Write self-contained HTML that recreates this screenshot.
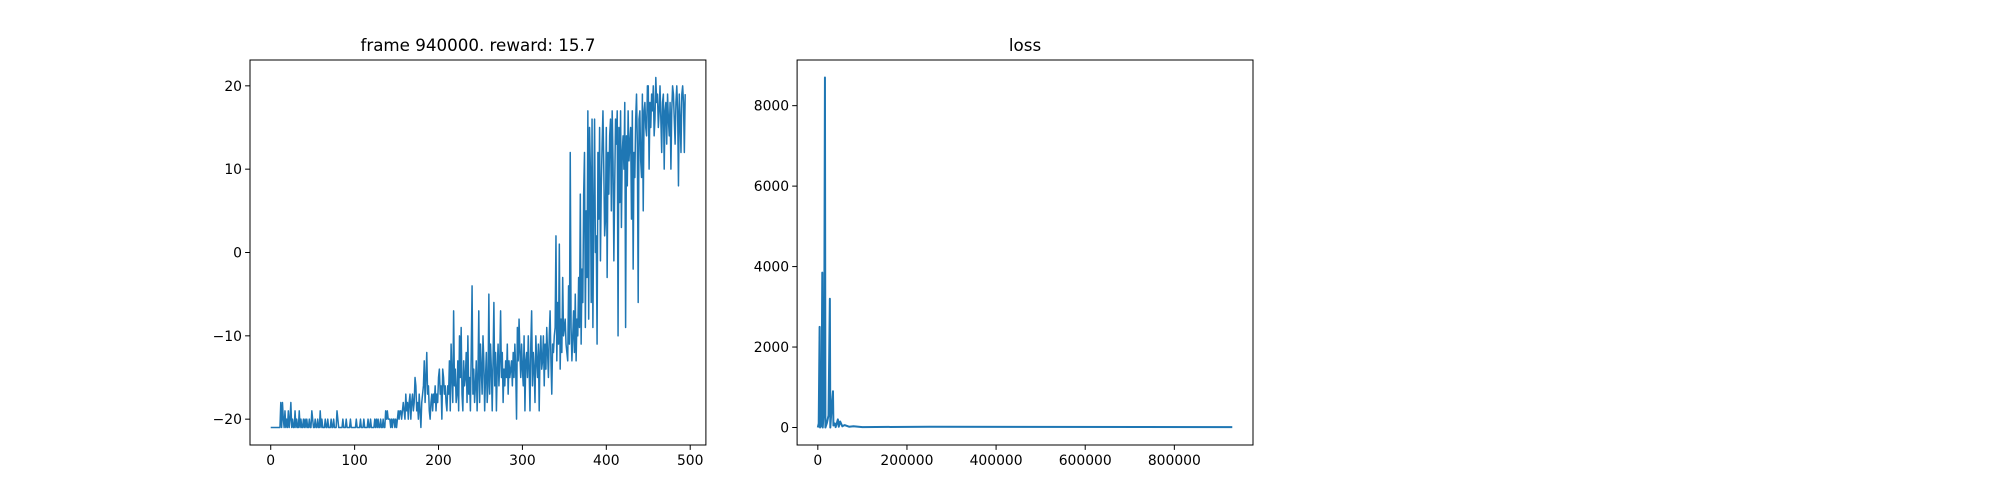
<!DOCTYPE html>
<html><head><meta charset="utf-8"><style>
body{margin:0;background:#fff;}
svg{display:block;font-family:"DejaVu Sans","Liberation Sans",sans-serif;}
</style></head><body>
<svg id="fig" width="2000" height="500"></svg>
<script>
const rewardValues=[
-21,-21,-21,-21,-21,-21,-21,-21,-21,-21,-21,-21,-18,-21,-18,-20,-21,-19,-21,-20,-21,-19,-21,-20,-18,
-21,-20,-21,-21,-19,-21,-20,-21,-21,-19,-21,-20,-21,-21,-20,-21,-20,-21,-20,-21,-21,-20,-21,-21,-19,
-20,-21,-21,-20,-21,-21,-20,-21,-21,-19,-21,-20,-21,-21,-21,-20,-21,-21,-20,-21,-21,-21,-20,-21,-21,
-20,-21,-21,-21,-19,-20,-21,-21,-21,-21,-21,-20,-21,-21,-21,-20,-21,-21,-21,-21,-20,-21,-21,-21,-21,
-21,-21,-20,-21,-21,-21,-21,-20,-21,-21,-21,-20,-21,-21,-21,-21,-20,-21,-21,-20,-21,-21,-21,-21,-20,
-21,-20,-21,-20,-21,-21,-20,-21,-21,-20,-21,-21,-19,-20,-19,-20,-20,-20,-21,-20,-21,-20,-20,-21,-20,
-21,-20,-19,-20,-19,-19,-20,-19,-18,-19,-20,-17,-19,-18,-20,-18,-17,-20,-18,-17,-19,-18,-15,-16,-19,
-18,-20,-17,-19,-21,-18,-17,-16,-13,-18,-15,-12,-17,-16,-19,-20,-18,-17,-19,-17,-18,-16,-19,-17,-18,
-15,-14,-17,-16,-20,-14,-15,-17,-16,-18,-19,-16,-17,-13,-19,-11,-15,-18,-7,-16,-14,-18,-17,-13,-19,
-10,-15,-9,-17,-19,-13,-16,-15,-12,-18,-10,-17,-15,-19,-12,-4,-17,-14,-18,-16,-13,-19,-15,-7,-18,
-11,-14,-17,-10,-13,-19,-15,-12,-18,-16,-5,-17,-11,-14,-19,-13,-6,-16,-12,-19,-14,-11,-16,-13,-7,
-15,-12,-18,-14,-16,-13,-15,-11,-17,-13,-15,-14,-13,-16,-12,-15,-11,-14,-20,-9,-13,-8,-12,-15,-11,
-14,-16,-10,-19,-13,-12,-15,-10,-14,-19,-11,-7,-16,-12,-14,-18,-10,-13,-15,-11,-19,-12,-10,-14,-13,
-10,-16,-11,-14,-9,-12,-15,-10,-7,-13,-17,-11,-12,-10,-9,2,-13,-6,-11,1,-14,-8,-12,-3,-10,
-9,-8,-11,-12,-13,-4,-11,12,-9,-13,-10,-7,-12,-5,-13,-8,-10,-3,-9,7,-11,-2,-6,7,12,
-9,5,-3,17,-8,15,10,-6,16,-9,5,16,0,2,-11,12,4,15,-1,8,13,17,10,2,4,
15,-3,12,7,14,16,5,17,11,-1,8,16,13,17,-10,15,6,17,3,12,14,10,18,-9,14,
8,17,11,13,15,4,17,-2,12,9,16,19,13,-6,16,17,11,9,19,5,17,18,15,14,20,
20,10,18,15,19,17,20,14,16,21,18,19,15,17,20,16,12,18,19,10,17,18,13,19,16,
14,18,10,17,20,19,16,13,18,20,17,8,19,16,12,19,20,18,12,19];
const rewardXTicks=[0,100,200,300,400,500];
const rewardYTicks=[-20,-10,0,10,20];
const lossFrames=[0,2000,4000,5000,8000,10000,11000,14000,16000,17000,20000,24000,27000,28000,31000,34000,35000,38000,40000,45000,47000,50000,55000,60000,70000,80000,100000,250000,930000];
const lossValues=[0,100,2500,0,50,3850,0,500,8700,0,100,300,3200,0,500,900,50,100,10,200,20,150,30,60,20,30,10,20,10];
const lossXTicks=[0,200000,400000,600000,800000];
const lossYTicks=[0,2000,4000,6000,8000];

const NS="http://www.w3.org/2000/svg";
const svg=document.getElementById('fig');
function mk(tag,attrs,parent){const e=document.createElementNS(NS,tag);for(const k in attrs)e.setAttribute(k,attrs[k]);(parent||svg).appendChild(e);return e;}
function lin(d0,d1,r0,r1){return v=>r0+(v-d0)/(d1-d0)*(r1-r0);}
function pad(a,b){const m=(b-a)*0.05;return [a-m,b+m];}

function axes(name,L,R,T,B,xd,yd,xt,yt,title){
  const g=mk('g',{});
  
  
  const sx=lin(xd[0],xd[1],L,R), sy=lin(yd[0],yd[1],B,T);
  const tt=mk('text',{x:(L+R)/2,y:T-9,'text-anchor':'middle','font-size':'16.7'},g);
  tt.textContent=title;
  
  
  xt.forEach(v=>{const x=sx(v);
    const l=mk('line',{x1:x,x2:x,y1:B,y2:B+4.9,stroke:'#000','stroke-width':1},g);
    
    const t=mk('text',{x:x,y:B+20,'text-anchor':'middle','font-size':'13.9'},g);t.textContent=v;
    });
  yt.forEach(v=>{const y=sy(v);
    const l=mk('line',{x1:L-4.9,x2:L,y1:y,y2:y,stroke:'#000','stroke-width':1},g);
    
    const t=mk('text',{x:L-8,y:y+5,'text-anchor':'end','font-size':'13.9'},g);t.textContent=v<0?'\u2212'+(-v):v;
    });
  return {g,sx,sy,L,R,T,B};
}
function frame(a,name){const r=mk('rect',{x:a.L,y:a.T,width:a.R-a.L,height:a.B-a.T,fill:'none',stroke:'#000','stroke-width':1},a.g);
  }

// reward
const n=rewardValues.length;
const ra=axes('reward-plot',250,705.9,60,445,pad(0,n-1),pad(-21,21),rewardXTicks,rewardYTicks,'frame 940000. reward: 15.7');
let d=rewardValues.map((v,i)=>(i?'L':'M')+ra.sx(i).toFixed(2)+','+ra.sy(v).toFixed(2)).join('');
const rp=mk('path',{d:d,fill:'none',stroke:'#1f77b4','stroke-width':1.5,'stroke-linejoin':'round'},ra.g);


frame(ra,'reward-axes-frame');

// loss
const la=axes('loss-plot',797.1,1253,60,445,pad(0,930000),pad(0,8700),lossXTicks,lossYTicks,'loss');
d=lossFrames.map((f,i)=>(i?'L':'M')+la.sx(f).toFixed(2)+','+la.sy(lossValues[i]).toFixed(2)).join('');
const lp=mk('path',{d:d,fill:'none',stroke:'#1f77b4','stroke-width':2,'stroke-linejoin':'round'},la.g);


frame(la,'loss-axes-frame');
</script>
</body></html>
